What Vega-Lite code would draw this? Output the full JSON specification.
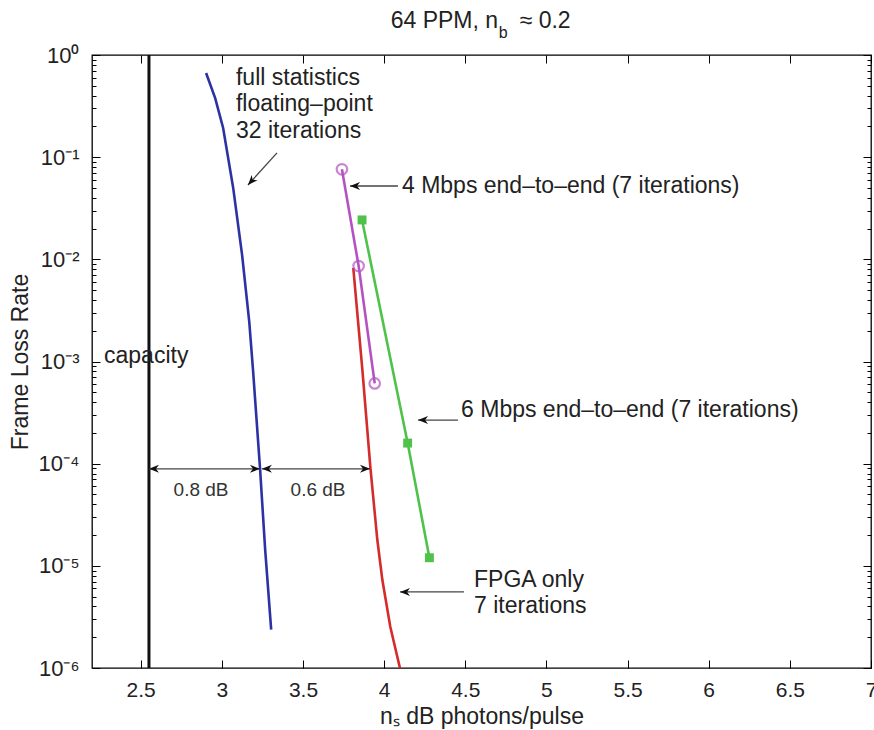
{
  "$schema": "https://vega.github.io/schema/vega-lite/v6.json",
  "width": 779,
  "height": 613,
  "autosize": "none",
  "padding": {"left": 92, "top": 55, "right": 3, "bottom": 62},
  "config": {
    "font": "Liberation Sans",
    "view": {"stroke": "#000", "strokeWidth": 1.3},
    "axis": {"domain": false, "grid": false, "ticks": true, "tickColor": "#000", "tickWidth": 1, "labelColor": "#222", "titleColor": "#222", "titleFontWeight": "normal", "labelBound": false, "labelOverlap": false, "labelFlush": false, "zindex": 1}
  },
  "datasets": {
    "curves": [
      {"series": "blue", "i": 1, "x": 2.903, "y": 0.667},
      {"series": "blue", "i": 2, "x": 2.959, "y": 0.379},
      {"series": "blue", "i": 3, "x": 3.008, "y": 0.193},
      {"series": "blue", "i": 4, "x": 3.070, "y": 0.050},
      {"series": "blue", "i": 5, "x": 3.125, "y": 0.0110},
      {"series": "blue", "i": 6, "x": 3.169, "y": 0.00244},
      {"series": "blue", "i": 7, "x": 3.193, "y": 0.00079},
      {"series": "blue", "i": 8, "x": 3.236, "y": 0.000087},
      {"series": "blue", "i": 9, "x": 3.267, "y": 0.0000144},
      {"series": "blue", "i": 10, "x": 3.304, "y": 0.00000237},
      {"series": "red", "i": 1, "x": 3.810, "y": 0.00824},
      {"series": "red", "i": 2, "x": 3.866, "y": 0.00083},
      {"series": "red", "i": 3, "x": 3.915, "y": 0.000093},
      {"series": "red", "i": 4, "x": 3.958, "y": 0.000018},
      {"series": "red", "i": 5, "x": 3.989, "y": 0.0000073},
      {"series": "red", "i": 6, "x": 4.038, "y": 0.00000253},
      {"series": "red", "i": 7, "x": 4.100, "y": 0.00000096},
      {"series": "pink", "i": 1, "x": 3.740, "y": 0.0761},
      {"series": "pink", "i": 2, "x": 3.843, "y": 0.0086},
      {"series": "pink", "i": 3, "x": 3.942, "y": 0.00061},
      {"series": "green", "i": 1, "x": 3.864, "y": 0.0243},
      {"series": "green", "i": 2, "x": 4.145, "y": 0.000159},
      {"series": "green", "i": 3, "x": 4.279, "y": 0.000012}
    ],
    "capacity": [{"x": 2.551}],
    "notes": [
      {"text": "full statistics", "x": 3.087, "y": 0.596},
      {"text": "floating–point", "x": 3.087, "y": 0.3314},
      {"text": "32 iterations", "x": 3.087, "y": 0.1804},
      {"text": "4 Mbps end–to–end (7 iterations)", "x": 4.11, "y": 0.0522},
      {"text": "6 Mbps end–to–end (7 iterations)", "x": 4.474, "y": 0.000335},
      {"text": "FPGA only", "x": 4.554, "y": 0.00000727},
      {"text": "7 iterations", "x": 4.554, "y": 0.00000405},
      {"text": "capacity", "x": 2.274, "y": 0.00113}
    ],
    "gaps": [
      {"text": "0.8 dB", "x": 2.872, "y": 0.0000552},
      {"text": "0.6 dB", "x": 3.593, "y": 0.0000552}
    ],
    "shafts": [
      {"x": 3.340, "y": 0.110, "x2": 3.161, "y2": 0.0534},
      {"x": 4.085, "y": 0.0522, "x2": 3.790, "y2": 0.0522},
      {"x": 4.455, "y": 0.000267, "x2": 4.209, "y2": 0.000267},
      {"x": 4.492, "y": 0.00000555, "x2": 4.098, "y2": 0.00000555},
      {"x": 2.551, "y": 0.000089, "x2": 3.235, "y2": 0.000089},
      {"x": 3.247, "y": 0.000089, "x2": 3.913, "y2": 0.000089}
    ],
    "headsLeft": [
      {"x": 3.790, "y": 0.0522},
      {"x": 4.209, "y": 0.000267},
      {"x": 4.098, "y": 0.00000555},
      {"x": 2.551, "y": 0.000089},
      {"x": 3.247, "y": 0.000089}
    ],
    "headsRight": [
      {"x": 3.235, "y": 0.000089},
      {"x": 3.913, "y": 0.000089}
    ],
    "headsDiag": [{"x": 3.161, "y": 0.0534}],
    "titleMain": [{"text": "64 PPM, n", "x": 4.702, "y": 1.838}],
    "titleSub": [{"text": "b", "x": 4.706, "y": 1.467}],
    "titleTail": [{"text": "≈ 0.2", "x": 4.835, "y": 1.838}]
  },
  "resolve": {"axis": {"x": "independent", "y": "independent"}},
  "layer": [
    {
      "data": {"name": "curves"},
      "mark": {"type": "line", "strokeWidth": 2.6, "clip": true},
      "encoding": {
        "x": {"field": "x", "type": "quantitative", "scale": {"domain": [2.2, 7], "nice": false, "zero": false},
          "axis": {"orient": "bottom", "values": [2.5, 3, 3.5, 4, 4.5, 5, 5.5, 6, 6.5, 7], "format": "~g", "offset": -8, "tickSize": 8, "labelPadding": 11, "labelFontSize": 21,
            "title": "nₛ dB photons/pulse", "titleFontSize": 23, "titleX": 389.5, "titleY": 56, "titleBaseline": "middle", "titleAlign": "center"}},
        "y": {"field": "y", "type": "quantitative", "scale": {"type": "log", "domain": [0.000001, 1], "nice": false},
          "axis": {"orient": "left", "values": [0.000001, 0.00001, 0.0001, 0.001, 0.01, 0.1, 1],
            "labelExpr": "['10⁻⁶','10⁻⁵','10⁻⁴','10⁻³','10⁻²','10⁻¹','10⁰'][round(log(datum.value)/LN10) + 6]",
            "offset": -8, "tickSize": 8, "labelPadding": 13, "labelFontSize": 22,
            "title": "Frame Loss Rate", "titleFontSize": 23, "titleX": -80, "titleY": 306.5, "titleAngle": -90, "titleAlign": "center", "titleBaseline": "middle"}},
        "color": {"field": "series", "type": "nominal", "scale": {"domain": ["blue", "red", "pink", "green"], "range": ["#2c31a3", "#d42b2b", "#b552c2", "#4fc24a"]}, "legend": null},
        "detail": {"field": "series"},
        "order": {"field": "i"}
      }
    },
    {
      "data": {"name": "curves"},
      "transform": [{"filter": "datum.series == 'pink'"}],
      "mark": {"type": "point", "shape": "circle", "filled": false, "size": 110, "strokeWidth": 2.2, "color": "#b552c2"},
      "encoding": {
        "x": {"field": "x", "type": "quantitative", "scale": {"domain": [2.2, 7], "nice": false, "zero": false},
          "axis": {"orient": "top", "values": [2.5, 3, 3.5, 4, 4.5, 5, 5.5, 6, 6.5, 7], "offset": -8, "tickSize": 8, "labels": false, "title": null}},
        "y": {"field": "y", "type": "quantitative", "scale": {"type": "log", "domain": [0.000001, 1], "nice": false},
          "axis": {"orient": "right", "values": [0.000001, 0.00001, 0.0001, 0.001, 0.01, 0.1, 1], "offset": -8, "tickSize": 8, "labels": false, "title": null}}
      }
    },
    {
      "data": {"name": "curves"},
      "transform": [{"filter": "datum.series == 'green'"}],
      "mark": {"type": "square", "size": 80, "color": "#4fc24a", "opacity": 1},
      "encoding": {
        "x": {"field": "x", "type": "quantitative", "scale": {"domain": [2.2, 7], "nice": false, "zero": false}, "axis": null},
        "y": {"field": "y", "type": "quantitative", "scale": {"type": "log", "domain": [0.000001, 1], "nice": false},
          "axis": {"orient": "left",
            "values": [0.000002,0.000003,0.000004,0.000005,0.000006,0.000007,0.000008,0.000009,0.00002,0.00003,0.00004,0.00005,0.00006,0.00007,0.00008,0.00009,0.0002,0.0003,0.0004,0.0005,0.0006,0.0007,0.0008,0.0009,0.002,0.003,0.004,0.005,0.006,0.007,0.008,0.009,0.02,0.03,0.04,0.05,0.06,0.07,0.08,0.09,0.2,0.3,0.4,0.5,0.6,0.7,0.8,0.9],
            "offset": -4, "tickSize": 4, "labels": false, "title": null}}
      }
    },
    {
      "data": {"name": "capacity"},
      "mark": {"type": "rule", "color": "#111", "strokeWidth": 3},
      "encoding": {
        "x": {"field": "x", "type": "quantitative", "scale": {"domain": [2.2, 7], "nice": false, "zero": false}, "axis": null}
      }
    },
    {
      "data": {"name": "shafts"},
      "mark": {"type": "rule", "color": "#444", "strokeWidth": 1.3},
      "encoding": {
        "x": {"field": "x", "type": "quantitative", "scale": {"domain": [2.2, 7], "nice": false, "zero": false}, "axis": null},
        "y": {"field": "y", "type": "quantitative", "scale": {"type": "log", "domain": [0.000001, 1], "nice": false},
          "axis": {"orient": "right",
            "values": [0.000002,0.000003,0.000004,0.000005,0.000006,0.000007,0.000008,0.000009,0.00002,0.00003,0.00004,0.00005,0.00006,0.00007,0.00008,0.00009,0.0002,0.0003,0.0004,0.0005,0.0006,0.0007,0.0008,0.0009,0.002,0.003,0.004,0.005,0.006,0.007,0.008,0.009,0.02,0.03,0.04,0.05,0.06,0.07,0.08,0.09,0.2,0.3,0.4,0.5,0.6,0.7,0.8,0.9],
            "offset": -4, "tickSize": 4, "labels": false, "title": null}},
        "x2": {"field": "x2"},
        "y2": {"field": "y2"}
      }
    },
    {
      "data": {"name": "headsLeft"},
      "mark": {"type": "point", "shape": "M0,0 L-2,-0.8 L-1.4,0 L-2,0.8 Z", "filled": true, "size": 100, "color": "#111", "opacity": 1, "angle": 180},
      "encoding": {
        "x": {"field": "x", "type": "quantitative", "scale": {"domain": [2.2, 7], "nice": false, "zero": false}, "axis": null},
        "y": {"field": "y", "type": "quantitative", "scale": {"type": "log", "domain": [0.000001, 1], "nice": false}, "axis": null}
      }
    },
    {
      "data": {"name": "headsRight"},
      "mark": {"type": "point", "shape": "M0,0 L-2,-0.8 L-1.4,0 L-2,0.8 Z", "filled": true, "size": 100, "color": "#111", "opacity": 1, "angle": 0},
      "encoding": {
        "x": {"field": "x", "type": "quantitative", "scale": {"domain": [2.2, 7], "nice": false, "zero": false}, "axis": null},
        "y": {"field": "y", "type": "quantitative", "scale": {"type": "log", "domain": [0.000001, 1], "nice": false}, "axis": null}
      }
    },
    {
      "data": {"name": "headsDiag"},
      "mark": {"type": "point", "shape": "M0,0 L-2,-0.8 L-1.4,0 L-2,0.8 Z", "filled": true, "size": 100, "color": "#111", "opacity": 1, "angle": 132},
      "encoding": {
        "x": {"field": "x", "type": "quantitative", "scale": {"domain": [2.2, 7], "nice": false, "zero": false}, "axis": null},
        "y": {"field": "y", "type": "quantitative", "scale": {"type": "log", "domain": [0.000001, 1], "nice": false}, "axis": null}
      }
    },
    {
      "data": {"name": "notes"},
      "mark": {"type": "text", "align": "left", "baseline": "middle", "fontSize": 23, "color": "#222"},
      "encoding": {
        "x": {"field": "x", "type": "quantitative", "scale": {"domain": [2.2, 7], "nice": false, "zero": false}, "axis": null},
        "y": {"field": "y", "type": "quantitative", "scale": {"type": "log", "domain": [0.000001, 1], "nice": false}, "axis": null},
        "text": {"field": "text"}
      }
    },
    {
      "data": {"name": "gaps"},
      "mark": {"type": "text", "align": "center", "baseline": "middle", "fontSize": 19, "color": "#333"},
      "encoding": {
        "x": {"field": "x", "type": "quantitative", "scale": {"domain": [2.2, 7], "nice": false, "zero": false}, "axis": null},
        "y": {"field": "y", "type": "quantitative", "scale": {"type": "log", "domain": [0.000001, 1], "nice": false}, "axis": null},
        "text": {"field": "text"}
      }
    },
    {
      "data": {"name": "titleMain"},
      "mark": {"type": "text", "align": "right", "baseline": "alphabetic", "fontSize": 23, "color": "#222"},
      "encoding": {
        "x": {"field": "x", "type": "quantitative", "scale": {"domain": [2.2, 7], "nice": false, "zero": false}, "axis": null},
        "y": {"field": "y", "type": "quantitative", "scale": {"type": "log", "domain": [0.000001, 1], "nice": false}, "axis": null},
        "text": {"field": "text"}
      }
    },
    {
      "data": {"name": "titleSub"},
      "mark": {"type": "text", "align": "left", "baseline": "alphabetic", "fontSize": 16, "color": "#222"},
      "encoding": {
        "x": {"field": "x", "type": "quantitative", "scale": {"domain": [2.2, 7], "nice": false, "zero": false}, "axis": null},
        "y": {"field": "y", "type": "quantitative", "scale": {"type": "log", "domain": [0.000001, 1], "nice": false}, "axis": null},
        "text": {"field": "text"}
      }
    },
    {
      "data": {"name": "titleTail"},
      "mark": {"type": "text", "align": "left", "baseline": "alphabetic", "fontSize": 23, "color": "#222"},
      "encoding": {
        "x": {"field": "x", "type": "quantitative", "scale": {"domain": [2.2, 7], "nice": false, "zero": false}, "axis": null},
        "y": {"field": "y", "type": "quantitative", "scale": {"type": "log", "domain": [0.000001, 1], "nice": false}, "axis": null},
        "text": {"field": "text"}
      }
    }
  ]
}
